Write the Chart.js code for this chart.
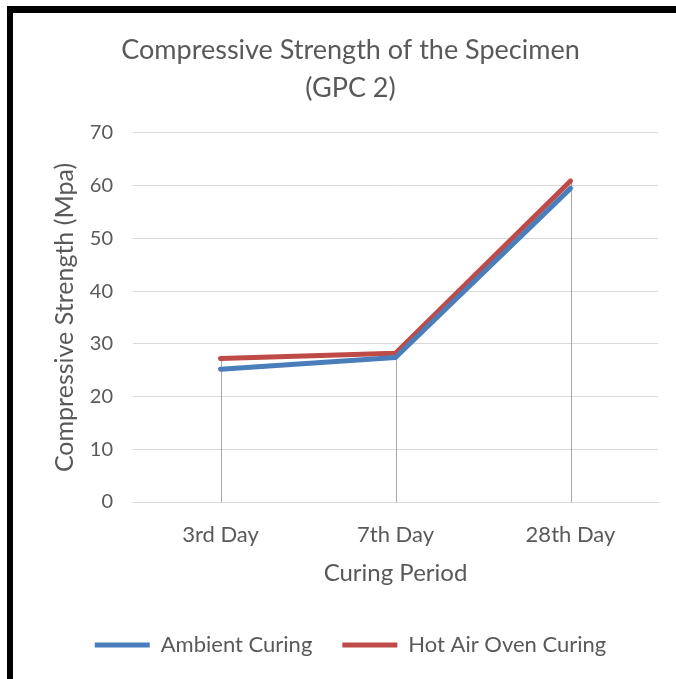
<!DOCTYPE html>
<html>
<head>
<meta charset="utf-8">
<title>Compressive Strength of the Specimen (GPC 2)</title>
<script src="https://cdn.jsdelivr.net/npm/chart.js@4.4.1/dist/chart.umd.min.js"></script>
<style>
    html, body {
        margin: 0;
        padding: 0;
        background: #ffffff;
        width: 676px;
        height: 679px;
        overflow: hidden;
    }
    #frame {
        position: absolute;
        left: 7px;
        top: 6px;
        width: 669px;
        height: 673px;
        border-top: 7px solid #000000;
        border-left: 6px solid #000000;
        box-sizing: border-box;
    }
    #wrap {
        position: absolute;
        left: 13px;
        top: 13px;
        width: 663px;
        height: 666px;
    }
</style>
</head>
<body>
<div id="frame"></div>
<div id="wrap"><canvas id="lineChart"></canvas></div>

<script>
"use strict";

// data
const periods = ['3rd Day', '7th Day', '28th Day'];
const ambientCuring = [25.2, 27.4, 59.5];
const hotAirOvenCuring = [27.2, 28.2, 60.9];
const yTicks = [0, 10, 20, 30, 40, 50, 60, 70];

const textColor = '#595959';
const fontName = 'Lato, "Open Sans", sans-serif';

/**
 * Ritar droplinjer från högsta punkten ner till x-axeln
 */
const dropLines = {
    id: 'dropLines',
    beforeDatasetsDraw(chart) {
        const ctx = chart.ctx;
        const x = chart.scales.x;
        const y = chart.scales.y;
        ctx.save();
        ctx.strokeStyle = '#a6a6a6';
        ctx.lineWidth = 1;
        periods.forEach((p, i) => {
            const top = Math.max(ambientCuring[i], hotAirOvenCuring[i]);
            const px = Math.round(x.getPixelForValue(i)) + 0.5;
            ctx.beginPath();
            ctx.moveTo(px, y.getPixelForValue(top));
            ctx.lineTo(px, y.getPixelForValue(0));
            ctx.stroke();
        });
        ctx.restore();
    }
};

function createLineChart() {
    const ctx = document.getElementById('lineChart').getContext('2d');
    new Chart(ctx, {
        type: 'line',
        data: {
            labels: periods,
            datasets: [{
                label: 'Ambient Curing',
                data: ambientCuring,
                borderColor: '#4a7ebb',
                backgroundColor: '#4a7ebb',
                borderWidth: 5,
                borderCapStyle: 'round',
                borderJoinStyle: 'round',
                pointRadius: 0,
                tension: 0
            }, {
                label: 'Hot Air Oven Curing',
                data: hotAirOvenCuring,
                borderColor: '#be4b48',
                backgroundColor: '#be4b48',
                borderWidth: 5,
                borderCapStyle: 'round',
                borderJoinStyle: 'round',
                pointRadius: 0,
                tension: 0
            }]
        },
        options: {
            responsive: true,
            maintainAspectRatio: false,
            animation: false,
            layout: {
                padding: { left: 30, right: 18, top: 0, bottom: 13 }
            },
            plugins: {
                title: {
                    display: true,
                    text: ['Compressive Strength of the Specimen', '(GPC 2)'],
                    color: textColor,
                    font: { family: fontName, size: 27, weight: 'normal', lineHeight: 1.407 },
                    padding: { top: 18, bottom: 26 }
                },
                legend: {
                    position: 'bottom',
                    labels: {
                        color: textColor,
                        font: { family: fontName, size: 22 },
                        usePointStyle: true,
                        pointStyle: 'line',
                        boxWidth: 55,
                        pointStyleWidth: 55,
                        padding: 30
                    }
                },
                tooltip: { enabled: false }
            },
            scales: {
                x: {
                    offset: true,
                    grid: { display: false, drawTicks: false },
                    border: { display: true, color: '#d9d9d9', width: 1 },
                    ticks: {
                        color: textColor,
                        font: { family: fontName, size: 22 },
                        padding: 20
                    },
                    title: {
                        display: true,
                        text: 'Curing Period',
                        color: textColor,
                        font: { family: fontName, size: 24 },
                        padding: { top: 0, bottom: 16 }
                    },
                    afterFit(scale) { scale.height = 102; }
                },
                y: {
                    min: 0,
                    max: 70,
                    afterBuildTicks(scale) {
                        scale.ticks = yTicks.map(v => ({ value: v }));
                    },
                    grid: { color: '#d9d9d9', drawTicks: false },
                    border: { display: false },
                    ticks: {
                        color: textColor,
                        font: { family: fontName, size: 20 },
                        padding: 20
                    },
                    title: {
                        display: true,
                        text: 'Compressive Strength (Mpa)',
                        color: textColor,
                        font: { family: fontName, size: 25 },
                        padding: { top: 7, bottom: 0 }
                    },
                    afterFit(scale) { scale.width = 90; }
                }
            }
        },
        plugins: [dropLines]
    });
}

window.onload = () => {
    createLineChart();
};
</script>
</body>
</html>
